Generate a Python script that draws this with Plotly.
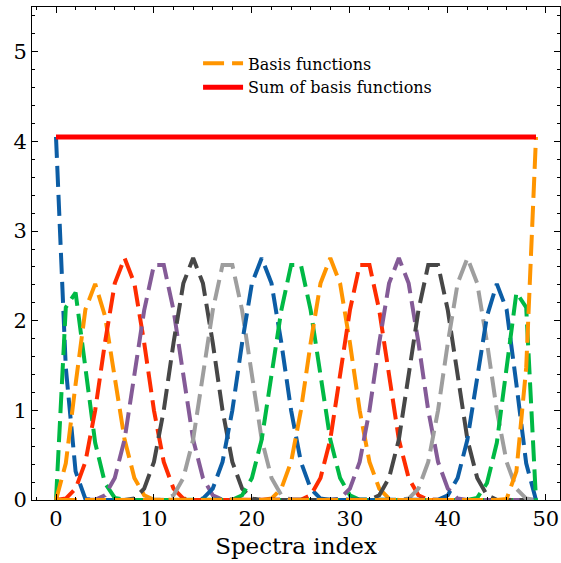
import numpy as np
import plotly.graph_objects as go

# Spectra index axis
spectra_index = list(range(50))

# First index at which each basis function's listed (non-zero) values begin
basis_start = [0, 0, 0, 1, 4, 8, 11, 15, 18, 22, 25, 29, 32, 36, 39, 43, 46]

# Values of each basis function (zero elsewhere)
basis_0 = [4.05, 1.476, 0.319, 0.012]
basis_1 = [0.0, 2.149, 2.314, 1.488, 0.638, 0.189, 0.024]
basis_2 = [0.0, 0.409, 1.291, 2.125, 2.411, 2.053, 1.364, 0.675, 0.246, 0.053, 0.002]
basis_3 = [0.016, 0.126, 0.425, 1.000, 1.755, 2.417, 2.700, 2.417, 1.755, 1.000, 0.425, 0.126, 0.016]
basis_4 = [0.002, 0.053, 0.246, 0.675, 1.372, 2.116, 2.623, 2.623, 2.116, 1.372, 0.675, 0.246, 0.053, 0.002]
basis_5 = [0.016, 0.126, 0.425, 1.000, 1.755, 2.417, 2.700, 2.417, 1.755, 1.000, 0.425, 0.126, 0.016]
basis_6 = [0.002, 0.053, 0.246, 0.675, 1.372, 2.116, 2.623, 2.623, 2.116, 1.372, 0.675, 0.246, 0.053, 0.002]
basis_7 = [0.016, 0.126, 0.425, 1.000, 1.755, 2.417, 2.700, 2.417, 1.755, 1.000, 0.425, 0.126, 0.016]
basis_8 = [0.002, 0.053, 0.246, 0.675, 1.372, 2.116, 2.623, 2.623, 2.116, 1.372, 0.675, 0.246, 0.053, 0.002]
basis_9 = [0.016, 0.126, 0.425, 1.000, 1.755, 2.417, 2.700, 2.417, 1.755, 1.000, 0.425, 0.126, 0.016]
basis_10 = [0.002, 0.053, 0.246, 0.675, 1.372, 2.116, 2.623, 2.623, 2.116, 1.372, 0.675, 0.246, 0.053, 0.002]
basis_11 = [0.016, 0.126, 0.425, 1.000, 1.755, 2.417, 2.700, 2.417, 1.755, 1.000, 0.425, 0.126, 0.016]
basis_12 = [0.002, 0.053, 0.246, 0.675, 1.372, 2.116, 2.623, 2.623, 2.116, 1.372, 0.675, 0.246, 0.053, 0.002]
basis_13 = [0.016, 0.126, 0.425, 1.000, 1.755, 2.417, 2.700, 2.417, 1.755, 1.000, 0.425, 0.126, 0.016]
basis_14 = [0.002, 0.053, 0.246, 0.675, 1.364, 2.053, 2.411, 2.125, 1.291, 0.409, 0.0]
basis_15 = [0.024, 0.189, 0.638, 1.488, 2.314, 2.149, 0.0]
basis_16 = [0.012, 0.319, 1.476, 4.05]

basis_values = [basis_0, basis_1, basis_2, basis_3, basis_4, basis_5, basis_6,
                basis_7, basis_8, basis_9, basis_10, basis_11, basis_12,
                basis_13, basis_14, basis_15, basis_16]

color_cycle = ["#0C5DA5", "#00B945", "#FF9500", "#FF2C00", "#845B97", "#474747", "#9E9E9E"]

legend_basis = "Basis functions"
legend_sum = "Sum of basis functions"

n = len(spectra_index)
basis = np.zeros((len(basis_values), n))
for k, (s, vals) in enumerate(zip(basis_start, basis_values)):
    basis[k, s:s + len(vals)] = vals
basis_sum = basis.sum(axis=0)

FONT = "DejaVu Serif"
fig = go.Figure()
for k in range(len(basis_values)):
    last = k == len(basis_values) - 1
    fig.add_trace(go.Scatter(
        x=spectra_index, y=basis[k], mode="lines",
        line=dict(color=color_cycle[k % len(color_cycle)], width=4, dash="21px,8px"),
        name=legend_basis, showlegend=last,
    ))
fig.add_trace(go.Scatter(
    x=spectra_index, y=basis_sum, mode="lines",
    line=dict(color="#FF0000", width=5),
    name=legend_sum, showlegend=True,
))

axis_common = dict(
    showline=True, linecolor="black", linewidth=1, mirror="ticks",
    ticks="inside", ticklen=6, tickwidth=1, tickcolor="black",
    showgrid=False, zeroline=False, automargin=False,
    tickfont=dict(family=FONT, size=21, color="black"),
)
fig.update_xaxes(
    range=[-2.45, 51.45], tick0=0, dtick=10,
    minor=dict(ticks="inside", dtick=2, ticklen=3, tickcolor="black", showgrid=False),
    title=dict(text="Spectra index", font=dict(family=FONT, size=23, color="black"), standoff=7),
    **axis_common,
)
fig.update_yaxes(
    range=[0, 5.5], tick0=0, dtick=1,
    minor=dict(ticks="inside", dtick=0.2, ticklen=3, tickcolor="black", showgrid=False),
    **axis_common,
)
fig.update_layout(
    width=561, height=563,
    margin=dict(l=32, r=1, t=7, b=63),
    paper_bgcolor="white", plot_bgcolor="white",
    showlegend=True,
    legend=dict(
        x=0.3145, y=0.92, xanchor="left", yanchor="top",
        bgcolor="rgba(0,0,0,0)", borderwidth=0,
        font=dict(family=FONT, size=16, color="black"),
        itemwidth=40, tracegroupgap=0,
    ),
)
fig.write_html(
    "out.html",
    config={"displayModeBar": False},
    post_script="document.body.style.margin='0';document.body.style.overflow='hidden';",
)
